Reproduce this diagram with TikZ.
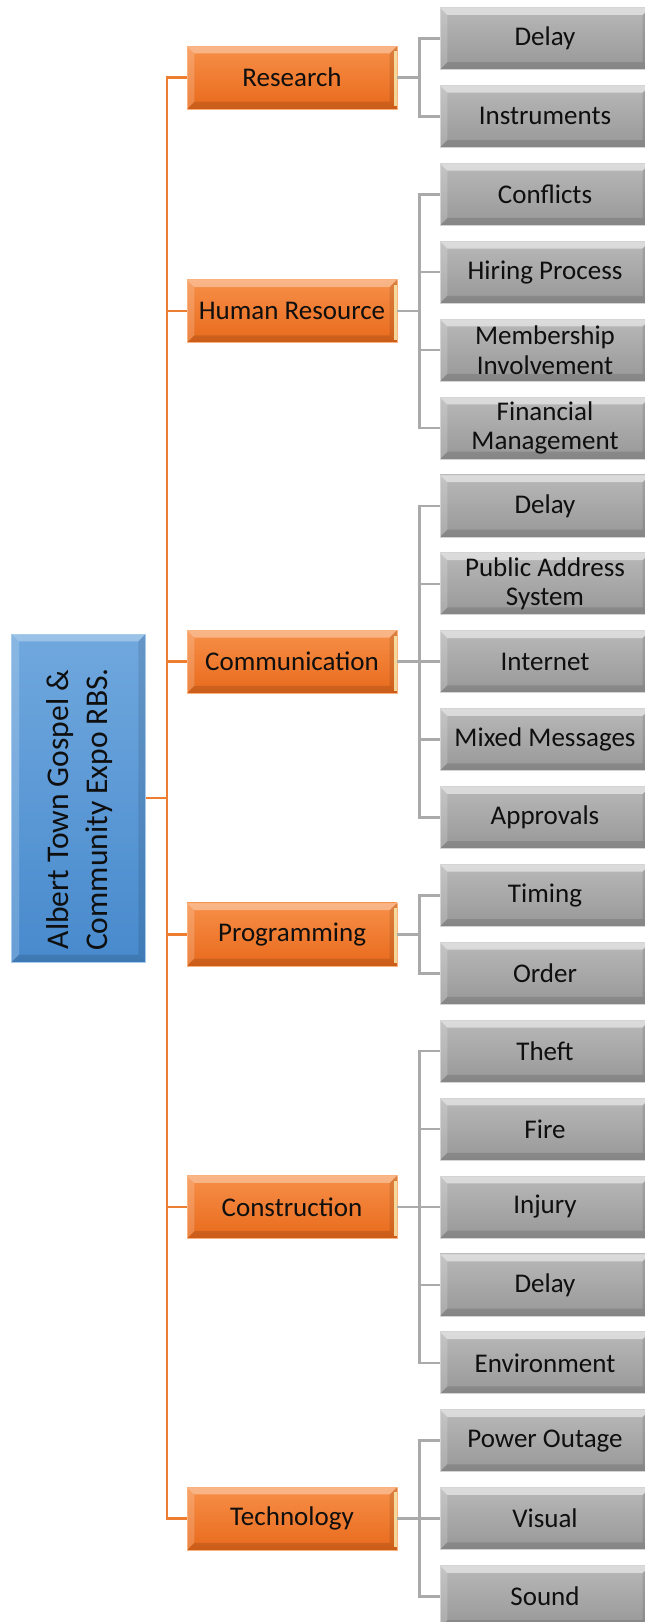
\documentclass[tikz,border=0pt]{standalone}
\usepackage{fontspec}
\setmainfont{Carlito}
\usetikzlibrary{calc}
\definecolor{oline}{RGB}{237,125,49}
\definecolor{gline}{RGB}{170,170,170}
\definecolor{otop}{RGB}{247,143,72}
\definecolor{obot}{RGB}{232,106,28}
\definecolor{gtop}{RGB}{184,184,184}
\definecolor{gbot}{RGB}{152,152,152}
\definecolor{btop}{RGB}{112,168,222}
\definecolor{bbot}{RGB}{72,138,205}
\definecolor{txt}{RGB}{15,15,15}
\tikzset{
  bev/.style={path picture={
     \coordinate (pA) at (path picture bounding box.north west);
     \coordinate (pB) at (path picture bounding box.north east);
     \coordinate (pC) at (path picture bounding box.south east);
     \coordinate (pD) at (path picture bounding box.south west);
     \fill[white,opacity=#1] (pA) -- (pB) -- ($(pB)+(-5.5pt,-5.5pt)$) -- ($(pA)+(5.5pt,-5.5pt)$) -- cycle;
     \fill[white,opacity=.18] (pA) -- ($(pA)+(5.5pt,-5.5pt)$) -- ($(pD)+(5.5pt,5.5pt)$) -- (pD) -- cycle;
     \fill[black,opacity=.12] (pD) -- ($(pD)+(5.5pt,5.5pt)$) -- ($(pC)+(-5.5pt,5.5pt)$) -- (pC) -- cycle;
     \fill[black,opacity=.10] (pB) -- (pC) -- ($(pC)+(-5.5pt,5.5pt)$) -- ($(pB)+(-5.5pt,-5.5pt)$) -- cycle;
  }},
  ohl/.style={postaction={path picture={
     \fill[white!75!yellow,opacity=.75] ($(path picture bounding box.north east)+(-2.2pt,-4pt)$) rectangle ($(path picture bounding box.south east)+(0pt,2pt)$);
  }}},
  obox/.style={draw=otop!70!white, line width=0.5pt, top color=otop, bottom color=obot,
     minimum width=157.5pt, minimum height=47.25pt, inner sep=0pt, text=txt,
     font=\fontsize{20.25}{22}\selectfont, bev=.35, ohl},
  gbox/.style={draw=gtop!60!white, line width=0.5pt, top color=gtop, bottom color=gbot,
     minimum width=157.5pt, minimum height=46.5pt, inner sep=0pt, text=txt, align=center,
     font=\fontsize{20.25}{22}\selectfont, bev=.5},
  rbox/.style={draw=btop!60!white, line width=0.5pt, top color=btop, bottom color=bbot,
     minimum width=100.5pt, minimum height=246pt, inner sep=0pt, bev=.3},
  rlab/.style={rotate=90, align=center, text=txt, font=\fontsize{23.7}{29}\selectfont},
  ol/.style={draw=oline, line width=1.9pt},
  gl/.style={draw=gline, line width=1.9pt},
}
\begin{document}
\begin{tikzpicture}[x=0.75pt,y=-0.75pt]
\useasboundingbox (0,0) rectangle (644,1622);
\fill[white] (0,0) rectangle (644,1622);
% root
\node[rbox] (root) at (78.7,798) {};
\node[rlab] (rootlab) at ($(root.center)+(1,11.5)$) {Albert Town Gospel \&\\Community Expo RBS.};
% level 1
\node[obox] (res) at (292,77.5) {Research};
\node[obox] (hr) at (292,311.2) {Human Resource};
\node[obox] (com) at (292,661.7) {Communication};
\node[obox] (pro) at (292,934.4) {Programming};
\node[obox] (con) at (292,1207) {Construction};
\node[obox] (tec) at (292,1518.6) {Technology};
% level 2
\node[gbox] (g0) at (545,38.5) {Delay};
\node[gbox] (g1) at (545,116.4) {Instruments};
\node[gbox] (g2) at (545,194.3) {Conflicts};
\node[gbox] (g3) at (545,272.2) {Hiring Process};
\node[gbox] (g4) at (545,350.1) {Membership\\Involvement};
\node[gbox] (g5) at (545,428.0) {Financial\\Management};
\node[gbox] (g6) at (545,505.9) {Delay};
\node[gbox] (g7) at (545,583.8) {Public Address\\System};
\node[gbox] (g8) at (545,661.7) {Internet};
\node[gbox] (g9) at (545,739.6) {Mixed Messages};
\node[gbox] (g10) at (545,817.5) {Approvals};
\node[gbox] (g11) at (545,895.4) {Timing};
\node[gbox] (g12) at (545,973.3) {Order};
\node[gbox] (g13) at (545,1051.2) {Theft};
\node[gbox] (g14) at (545,1129.1) {Fire};
\node[gbox] (g15) at (545,1207.0) {Injury};
\node[gbox] (g16) at (545,1284.9) {Delay};
\node[gbox] (g17) at (545,1362.8) {Environment};
\node[gbox] (g18) at (545,1440.7) {Power Outage};
\node[gbox] (g19) at (545,1518.6) {Visual};
\node[gbox] (g20) at (545,1596.5) {Sound};
% connectors
\foreach \c in {res,hr,com,pro,con,tec}{\draw[ol] (root.east) -- ++(21,0) |- (\c.west);}
\foreach \c in {g0,g1}{\draw[gl] (res.east) -- ++(22,0) |- (\c.west);}
\foreach \c in {g2,g3,g4,g5}{\draw[gl] (hr.east) -- ++(22,0) |- (\c.west);}
\foreach \c in {g6,g7,g8,g9,g10}{\draw[gl] (com.east) -- ++(22,0) |- (\c.west);}
\foreach \c in {g11,g12}{\draw[gl] (pro.east) -- ++(22,0) |- (\c.west);}
\foreach \c in {g13,g14,g15,g16,g17}{\draw[gl] (con.east) -- ++(22,0) |- (\c.west);}
\foreach \c in {g18,g19,g20}{\draw[gl] (tec.east) -- ++(22,0) |- (\c.west);}
\end{tikzpicture}
\end{document}
